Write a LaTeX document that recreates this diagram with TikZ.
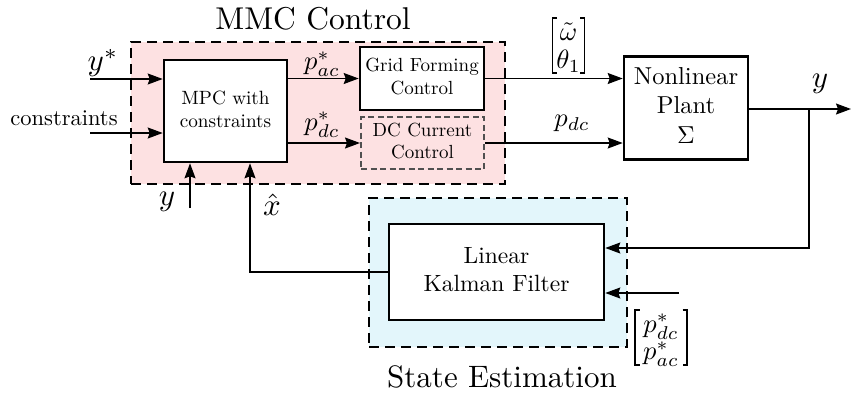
\documentclass[tikz,border=0pt]{standalone}
\usepackage{amsmath}
\usepackage{graphicx}
\usetikzlibrary{arrows.meta,calc}
% text set at 10pt and magnified as a whole
\newcommand{\bigtxt}[2]{\scalebox{#1}{#2}}
\newcommand{\bigtxtc}[2]{\scalebox{#1}{\begin{tabular}{@{}c@{}}#2\end{tabular}}}
\definecolor{mmcpink}{HTML}{FDE1E2}
\definecolor{estblue}{HTML}{E3F6FB}
\definecolor{dcgray}{HTML}{505050}
\tikzset{
  wire/.style={line width=1.3pt,-{Stealth[length=15pt,width=11pt,inset=2pt]}},
  block/.style={draw,line width=2.6pt,fill=white,align=center,inner sep=0pt},
  region/.style={draw,line width=2.6pt,dash pattern=on 10pt off 6pt,inner sep=0pt},
  dcblock/.style={draw=dcgray,line width=2pt,dash pattern=on 6pt off 3.5pt,align=center,inner sep=0pt},
  lbl/.style={inner sep=0pt},
  bracket/.style={line width=1.2pt}
}
\begin{document}
\begin{tikzpicture}[x=1pt,y=-1pt]
\useasboundingbox (0,0) rectangle (851,392);

% shaded groups
\node[region,fill=mmcpink,minimum width=374pt,minimum height=142pt] (mmc) at (318,113) {};
\node[region,fill=estblue,minimum width=258pt,minimum height=149pt] (est) at (498,272.5) {};
\node[lbl] (mmct) at (313,19) {\bigtxt{3.15}{MMC Control}};
\node[lbl] (estt) at (502,377) {\bigtxt{3.1}{State Estimation}};

% blocks
\node[block,minimum width=123pt,minimum height=102pt] (mpc) at (225.5,111) {\bigtxtc{1.92}{MPC with\\constraints}};
\node[block,minimum width=124pt,minimum height=63pt] (gfc) at (422,78.5) {\bigtxtc{1.9}{Grid Forming\\Control}};
\node[dcblock,minimum width=123pt,minimum height=52pt] (dcc) at (422.5,143) {\bigtxtc{1.9}{DC Current\\Control}};
\node[block,minimum width=124pt,minimum height=103pt] (plant) at (686,108) {\bigtxtc{2.45}{Nonlinear\\Plant\\$\Sigma$}};
\node[block,minimum width=215pt,minimum height=96pt] (kf) at (496.5,272) {\bigtxtc{2.35}{Linear\\Kalman Filter}};

% free ends
\coordinate (ysrc) at (90,79);
\coordinate (csrc) at (90,133);
\coordinate (ymeas) at (190,208);
\coordinate (yout) at (851,109);
\coordinate (br) at (809,109);
\coordinate (pref) at (679,293);

% connectors
\draw[wire] (ysrc) -- (mpc.west |- ysrc);
\draw[wire] (csrc) -- (mpc.west |- csrc);
\draw[wire] (ymeas) -- ([xshift=-35.5pt]mpc.south);
\draw[wire] (mpc.east |- gfc) -- (gfc.west);
\draw[wire] (mpc.east |- dcc) -- (dcc.west);
\draw[wire] (gfc.east) -- (plant.west |- gfc);
\draw[wire] (dcc.east) -- (plant.west |- dcc);
\draw[wire] (plant.east |- yout) -- (yout);
\draw[wire] (br) |- ([yshift=24pt]kf.east);
\draw[wire] (pref) -- ([yshift=-21pt]kf.east);
\draw[wire] (kf.west) -| ([xshift=24.5pt]mpc.south);

% signal labels
\node[lbl] (lys) at (103,63) {\bigtxt{3.1}{$y^*$}};
\node[lbl] (lcs) at (64,118) {\bigtxt{2.25}{constraints}};
\node[lbl] (lym) at (167,202) {\bigtxt{3.1}{$y$}};
\node[lbl] (lxh) at (272,205) {\bigtxt{3.1}{$\hat{x}$}};
\node[lbl] (lpac) at (322,64) {\bigtxt{2.65}{$p_{ac}^*$}};
\node[lbl] (lpdc) at (322,125) {\bigtxt{2.65}{$p_{dc}^*$}};
\node[lbl] (lpd) at (572,123) {\bigtxt{2.65}{$p_{dc}$}};
\node[lbl] (lyo) at (820,84) {\bigtxt{3.1}{$y$}};

% column vector [omega~; theta_1]
\node[lbl] (vom) at (568.5,32) {\bigtxt{2.65}{$\tilde{\omega}$}};
\node[lbl] (vth) at (568.5,61) {\bigtxt{2.65}{$\theta_1$}};
\draw[bracket] (557,18) -- (552.5,18) -- (552.5,73) -- (557,73);
\draw[bracket] (580,18) -- (584.5,18) -- (584.5,73) -- (580,73);

% column vector [p_dc*; p_ac*]
\node[lbl] (vpd) at (661,327) {\bigtxt{2.65}{$p_{dc}^*$}};
\node[lbl] (vpa) at (661,354) {\bigtxt{2.65}{$p_{ac}^*$}};
\draw[bracket] (639.5,310) -- (635,310) -- (635,365) -- (639.5,365);
\draw[bracket] (682.5,310) -- (687,310) -- (687,365) -- (682.5,365);
\end{tikzpicture}
\end{document}
